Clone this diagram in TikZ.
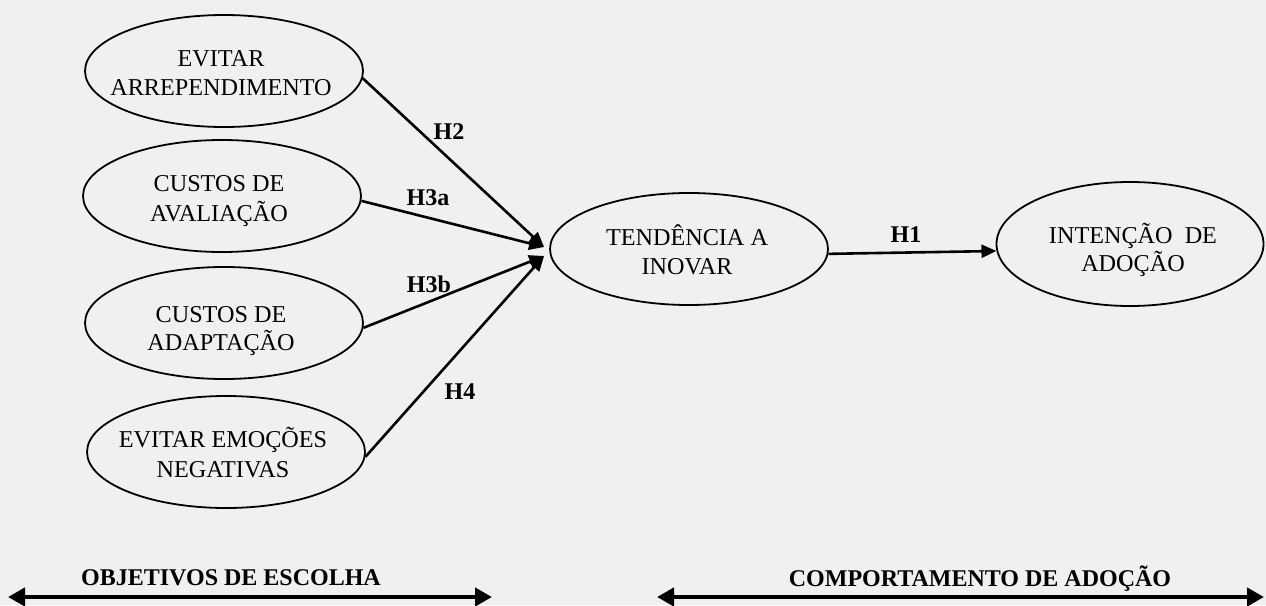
\documentclass[tikz,border=0pt]{standalone}
\usepackage{fontspec}
\setmainfont{Liberation Serif}
\usetikzlibrary{shapes.geometric,arrows.meta,calc}
\definecolor{bg}{HTML}{F0F0F0}
\begin{document}
\begin{tikzpicture}[x=1pt,y=-1pt,
  oval/.style={ellipse,draw,line width=1.8pt,inner sep=0pt,minimum width=278pt,minimum height=112pt},
  txt/.style={anchor=base,inner sep=0pt,font=\fontsize{24.2}{29}\selectfont},
  hyp/.style={anchor=base,inner sep=0pt,font=\bfseries\fontsize{24}{28}\selectfont},
  link/.style={line width=2.6pt,-{Triangle[length=15pt,width=13pt]}},
  spanarrow/.style={line width=4.8pt,{Triangle[length=17pt,width=18pt]}-{Triangle[length=17pt,width=18pt]}}]
\fill[bg] (0,0) rectangle (1266,605);
\useasboundingbox (0,0) rectangle (1266,605);

% ellipses
\node[oval] (e1) at (224,71) {};
\node[oval] (e2) at (222,196) {};
\node[oval] (e3) at (224,323) {};
\node[oval] (e4) at (226,452) {};
\node[oval] (e5) at (689,249) {};
\node[oval,minimum width=267pt,minimum height=124pt] (e6) at (1130,244) {};

% texts
\node[txt] (e1a) at (221,66) {EVITAR};
\node[txt] (e1b) at (221,95) {ARREPENDIMENTO};
\node[txt] (e2a) at (219,191) {CUSTOS DE};
\node[txt] (e2b) at (219,221) {AVALIAÇÃO};
\node[txt] (e3a) at (221,322) {CUSTOS DE};
\node[txt] (e3b) at (221,350) {ADAPTAÇÃO};
\node[txt] (e4a) at (223,447) {EVITAR EMOÇÕES};
\node[txt] (e4b) at (223,477) {NEGATIVAS};
\node[txt] (e5a) at (687,245) {TENDÊNCIA A};
\node[txt] (e5b) at (687,274) {INOVAR};
\node[txt] (e6a) at (1133,243) {INTENÇÃO\hspace{0.5em}DE};
\node[txt] (e6b) at (1133,271) {ADOÇÃO};

% arrow targets
\coordinate (t1) at ($(e5.west)+(-5,-2)$);
\coordinate (t2) at ($(e5.west)+(-5,7)$);

% connectors
\draw[link] (e1.-3) -- (t1);
\draw[link] (e2.-2) -- (t1);
\draw[link] (e3.-2) -- (t2);
\draw[link] (e4.-2) -- (t2);
\draw[link] (e5.-2) -- (e6.183);

% hypothesis labels
\node[hyp] (h2) at (449,139) {H2};
\node[hyp] (h3a) at (428,205) {H3a};
\node[hyp] (h3b) at (429,292) {H3b};
\node[hyp] (h4) at (460,399) {H4};
\node[hyp] (h1) at (906,242) {H1};

% bottom spans
\coordinate (l1) at (8,597);
\coordinate (l2) at (492,597);
\coordinate (r1) at (657,597);
\coordinate (r2) at (1264,597);
\draw[spanarrow] (l1) -- (l2);
\draw[spanarrow] (r1) -- (r2);
\node[hyp] (obj) at (231,585) {OBJETIVOS DE ESCOLHA};
\node[hyp] (comp) at (980,586) {COMPORTAMENTO DE ADOÇÃO};
\end{tikzpicture}
\end{document}
